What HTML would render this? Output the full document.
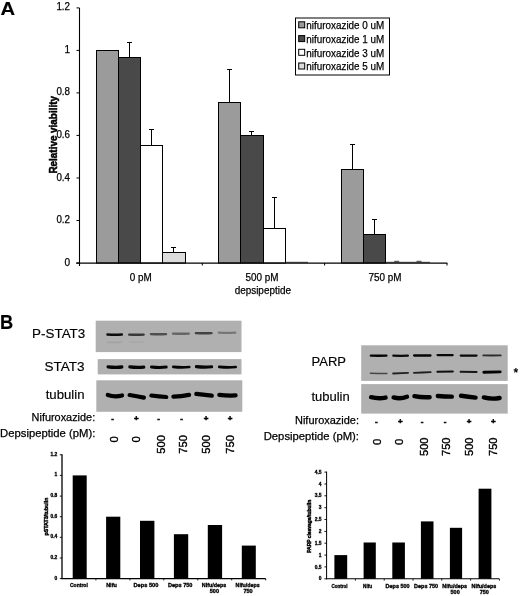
<!DOCTYPE html>
<html lang="en">
<head>
<meta charset="utf-8">
<title>Figure</title>
<style>
html,body{margin:0;padding:0;background:#fff;}
body{width:520px;height:596px;overflow:hidden;}
svg{display:block;}
text{font-family:"Liberation Sans",Arial,Helvetica,sans-serif;fill:#000;}
.t{stroke:#000;stroke-width:0.25px;}
.tb{stroke:#000;stroke-width:0.5px;}
.ts{stroke:#000;stroke-width:0.3px;}
.tl{stroke:#000;stroke-width:0.15px;}
.tr{stroke:#000;stroke-width:0.4px;}
.tt{stroke:#000;stroke-width:0.45px;}
</style>
</head>
<body>
<svg width="520" height="596" viewBox="0 0 520 596">
<defs>
<filter id="b1" filterUnits="userSpaceOnUse" x="90" y="315" width="430" height="105"><feGaussianBlur stdDeviation="0.55"/></filter>
<filter id="b2" filterUnits="userSpaceOnUse" x="90" y="315" width="430" height="105"><feGaussianBlur stdDeviation="0.5"/></filter>
</defs>
<rect x="0" y="0" width="520" height="596" fill="#fff"/>

<g id="panelA">
<text x="0.6" y="14.8" font-size="19" font-weight="bold" textLength="14.6" lengthAdjust="spacingAndGlyphs" class="tl">A</text>
<rect x="96.5" y="50.5" width="22.0" height="212.5" fill="#9b9b9b" stroke="#000" stroke-width="1"/>
<rect x="118.5" y="57.5" width="22.0" height="205.5" fill="#494949" stroke="#000" stroke-width="1"/>
<path d="M129.5 57.5V42.5M127.0 42.5H132.0" stroke="#000" stroke-width="1" fill="none"/>
<rect x="140.5" y="145.5" width="22.0" height="117.5" fill="#ffffff" stroke="#000" stroke-width="1"/>
<path d="M151.5 145.5V129.5M149.0 129.5H154.0" stroke="#000" stroke-width="1" fill="none"/>
<rect x="162.5" y="252.5" width="23.0" height="10.5" fill="#dcdcdc" stroke="#000" stroke-width="1"/>
<path d="M173.5 252.5V247.5M171.0 247.5H176.0" stroke="#000" stroke-width="1" fill="none"/>
<rect x="218.5" y="102.5" width="22.0" height="160.5" fill="#9b9b9b" stroke="#000" stroke-width="1"/>
<path d="M229.5 102.5V69.5M227.0 69.5H232.0" stroke="#000" stroke-width="1" fill="none"/>
<rect x="240.5" y="135.5" width="23.0" height="127.5" fill="#494949" stroke="#000" stroke-width="1"/>
<path d="M251.5 135.5V131.5M249.0 131.5H254.0" stroke="#000" stroke-width="1" fill="none"/>
<rect x="263.5" y="228.5" width="22.0" height="34.5" fill="#ffffff" stroke="#000" stroke-width="1"/>
<path d="M274.5 228.5V197.5M272.0 197.5H277.0" stroke="#000" stroke-width="1" fill="none"/>
<path d="M285.5 262.3H308.0" stroke="#000" stroke-width="0.9" opacity="0.8"/>
<rect x="341.5" y="169.5" width="22.0" height="93.5" fill="#9b9b9b" stroke="#000" stroke-width="1"/>
<path d="M352.5 169.5V144.5M350.0 144.5H355.0" stroke="#000" stroke-width="1" fill="none"/>
<rect x="363.5" y="234.5" width="22.0" height="28.5" fill="#494949" stroke="#000" stroke-width="1"/>
<path d="M374.5 234.5V219.5M372.0 219.5H377.0" stroke="#000" stroke-width="1" fill="none"/>
<path d="M385.5 262.3H408.0" stroke="#000" stroke-width="0.9" opacity="0.8"/>
<path d="M394.2 261.3H399.2" stroke="#000" stroke-width="1" opacity="0.75"/>
<path d="M408.0 262.3H430.0" stroke="#000" stroke-width="0.9" opacity="0.8"/>
<path d="M416.5 261.3H421.5" stroke="#000" stroke-width="1" opacity="0.75"/>
<path d="M79.5 8.0V266.0" stroke="#000" stroke-width="1.1" fill="none"/>
<path d="M76.2 263.0H447.3" stroke="#000" stroke-width="1.25" fill="none"/>
<path d="M76.5 263.0H79.5" stroke="#000" stroke-width="1"/>
<text x="70.0" y="265.5" font-size="11" text-anchor="end" textLength="5.6" lengthAdjust="spacingAndGlyphs" class="t">0</text>
<path d="M76.5 220.5H79.5" stroke="#000" stroke-width="1"/>
<text x="70.0" y="223.0" font-size="11" text-anchor="end" textLength="13.6" lengthAdjust="spacingAndGlyphs" class="t">0.2</text>
<path d="M76.5 178.0H79.5" stroke="#000" stroke-width="1"/>
<text x="70.0" y="180.5" font-size="11" text-anchor="end" textLength="13.6" lengthAdjust="spacingAndGlyphs" class="t">0.4</text>
<path d="M76.5 135.4H79.5" stroke="#000" stroke-width="1"/>
<text x="70.0" y="137.9" font-size="11" text-anchor="end" textLength="13.6" lengthAdjust="spacingAndGlyphs" class="t">0.6</text>
<path d="M76.5 92.9H79.5" stroke="#000" stroke-width="1"/>
<text x="70.0" y="95.4" font-size="11" text-anchor="end" textLength="13.6" lengthAdjust="spacingAndGlyphs" class="t">0.8</text>
<path d="M76.5 50.4H79.5" stroke="#000" stroke-width="1"/>
<text x="70.0" y="52.9" font-size="11" text-anchor="end" textLength="5.6" lengthAdjust="spacingAndGlyphs" class="t">1</text>
<path d="M76.5 7.9H79.5" stroke="#000" stroke-width="1"/>
<text x="70.0" y="10.4" font-size="11" text-anchor="end" textLength="13.6" lengthAdjust="spacingAndGlyphs" class="t">1.2</text>
<path d="M202.3 263.0V265.5" stroke="#000" stroke-width="1"/>
<path d="M324.6 263.0V265.5" stroke="#000" stroke-width="1"/>
<path d="M447 263.0V265.5" stroke="#000" stroke-width="1"/>
<text x="140.7" y="281.2" font-size="11" text-anchor="middle" textLength="22" lengthAdjust="spacingAndGlyphs" class="t">0 pM</text>
<text x="262" y="281.2" font-size="11" text-anchor="middle" textLength="33" lengthAdjust="spacingAndGlyphs" class="t">500 pM</text>
<text x="262.8" y="294" font-size="11" text-anchor="middle" textLength="56.3" lengthAdjust="spacingAndGlyphs" class="t">depsipeptide</text>
<text x="385" y="281.2" font-size="11" text-anchor="middle" textLength="33" lengthAdjust="spacingAndGlyphs" class="t">750 pM</text>
<text transform="translate(57.0,134.8) rotate(-90)" font-size="10" font-weight="bold" text-anchor="middle" textLength="77.5" lengthAdjust="spacingAndGlyphs" class="tb">Relative viability</text>
<rect x="295.5" y="18" width="94" height="57" fill="#fff" stroke="#000" stroke-width="1"/>
<rect x="298.7" y="21.8" width="6" height="6" fill="#9b9b9b" stroke="#000" stroke-width="1"/>
<text x="306.3" y="29.1" font-size="11" textLength="78" lengthAdjust="spacingAndGlyphs" class="t">nifuroxazide 0 uM</text>
<rect x="298.7" y="35.6" width="6" height="6" fill="#494949" stroke="#000" stroke-width="1"/>
<text x="306.3" y="42.9" font-size="11" textLength="78" lengthAdjust="spacingAndGlyphs" class="t">nifuroxazide 1 uM</text>
<rect x="298.7" y="49.3" width="6" height="6" fill="#ffffff" stroke="#000" stroke-width="1"/>
<text x="306.3" y="56.6" font-size="11" textLength="78" lengthAdjust="spacingAndGlyphs" class="t">nifuroxazide 3 uM</text>
<rect x="298.7" y="63.0" width="6" height="6" fill="#dcdcdc" stroke="#000" stroke-width="1"/>
<text x="306.3" y="70.3" font-size="11" textLength="78" lengthAdjust="spacingAndGlyphs" class="t">nifuroxazide 5 uM</text>
</g>
<g id="panelB">
<text x="0" y="328.7" font-size="19.4" font-weight="bold" textLength="13.2" lengthAdjust="spacingAndGlyphs" class="tl">B</text>
<rect x="95.7" y="320.7" width="145.8" height="31.4" fill="#b0b0b0"/>
<rect x="97.7" y="359.1" width="143.8" height="15.3" fill="#b0b0b0"/>
<rect x="96.3" y="380.3" width="146" height="31.5" fill="#b0b0b0"/>
<path d="M107.5 334.6Q114.6 335.0 121.8 334.6" stroke="#000" stroke-width="2.5" stroke-linecap="round" fill="none" opacity="0.92" filter="url(#b1)"/>
<path d="M129.2 334.6Q136.4 335.0 143.6 334.6" stroke="#000" stroke-width="2.4" stroke-linecap="round" fill="none" opacity="0.68" filter="url(#b1)"/>
<path d="M151.0 334.1Q158.5 334.5 166.0 334.1" stroke="#000" stroke-width="2.4" stroke-linecap="round" fill="none" opacity="0.55" filter="url(#b1)"/>
<path d="M173.0 333.6Q180.9 334.0 188.8 333.6" stroke="#000" stroke-width="2.4" stroke-linecap="round" fill="none" opacity="0.42" filter="url(#b1)"/>
<path d="M195.9 333.1Q203.7 333.5 211.5 333.1" stroke="#000" stroke-width="2.4" stroke-linecap="round" fill="none" opacity="0.62" filter="url(#b1)"/>
<path d="M218.8 332.7Q227.1 333.1 235.4 332.7" stroke="#000" stroke-width="2.2" stroke-linecap="round" fill="none" opacity="0.32" filter="url(#b1)"/>
<path d="M107.3 342.2Q114.2 342.6 121.2 342.2" stroke="#333" stroke-width="1.6" stroke-linecap="round" fill="none" opacity="0.1" filter="url(#b1)"/>
<path d="M129.7 342.0Q136.5 342.0 143.3 342.0" stroke="#333" stroke-width="1.4" stroke-linecap="round" fill="none" opacity="0.06" filter="url(#b1)"/>
<path d="M108.1 366.8Q115.0 367.7 121.8 367.0" stroke="#000" stroke-width="3.3" stroke-linecap="round" fill="none" opacity="0.97" filter="url(#b1)"/>
<path d="M129.8 366.9Q136.8 367.8 143.8 367.1" stroke="#000" stroke-width="3.1" stroke-linecap="round" fill="none" opacity="0.97" filter="url(#b1)"/>
<path d="M151.5 366.9Q158.8 367.8 166.2 367.1" stroke="#000" stroke-width="3.0" stroke-linecap="round" fill="none" opacity="0.97" filter="url(#b1)"/>
<path d="M173.3 366.8Q181.2 367.7 189.2 367.0" stroke="#000" stroke-width="2.7" stroke-linecap="round" fill="none" opacity="0.97" filter="url(#b1)"/>
<path d="M196.4 366.6Q204.0 367.5 211.6 366.8" stroke="#000" stroke-width="3.1" stroke-linecap="round" fill="none" opacity="0.97" filter="url(#b1)"/>
<path d="M219.2 366.8Q227.4 367.7 235.7 367.0" stroke="#000" stroke-width="2.7" stroke-linecap="round" fill="none" opacity="0.97" filter="url(#b1)"/>
<path d="M107.8 395.0Q115.0 397.4 122.1 395.4" stroke="#000" stroke-width="4.2" stroke-linecap="round" fill="none" opacity="1" filter="url(#b1)"/>
<path d="M129.6 395.0Q136.8 396.1 143.9 397.6" stroke="#000" stroke-width="4.2" stroke-linecap="round" fill="none" opacity="1" filter="url(#b1)"/>
<path d="M151.4 395.5Q158.8 396.5 166.3 397.0" stroke="#000" stroke-width="4.2" stroke-linecap="round" fill="none" opacity="1" filter="url(#b1)"/>
<path d="M173.4 396.6Q181.2 396.5 189.1 394.9" stroke="#000" stroke-width="4.2" stroke-linecap="round" fill="none" opacity="1" filter="url(#b1)"/>
<path d="M196.3 393.9Q204.0 394.8 211.8 395.7" stroke="#000" stroke-width="4.2" stroke-linecap="round" fill="none" opacity="1" filter="url(#b1)"/>
<path d="M219.3 394.8Q227.4 395.9 235.6 395.4" stroke="#000" stroke-width="4.2" stroke-linecap="round" fill="none" opacity="1" filter="url(#b1)"/>
<text x="85.3" y="338.3" font-size="13.5" text-anchor="end" textLength="53.2" lengthAdjust="spacingAndGlyphs" class="tl">P-STAT3</text>
<text x="84.5" y="371.3" font-size="13" text-anchor="end" textLength="40.1" lengthAdjust="spacingAndGlyphs" class="tl">STAT3</text>
<text x="84.5" y="398.7" font-size="13" text-anchor="end" textLength="38.8" lengthAdjust="spacingAndGlyphs" class="tl">tubulin</text>
<text x="95.2" y="421.1" font-size="11" text-anchor="end" textLength="63.6" lengthAdjust="spacingAndGlyphs" class="t">Nifuroxazide:</text>
<text x="95.3" y="437.3" font-size="11" text-anchor="end" textLength="95.2" lengthAdjust="spacingAndGlyphs" class="t">Depsipeptide (pM):</text>
<text x="112.6" y="421.3" font-size="8" font-weight="bold" text-anchor="middle" class="tb">-</text>
<text x="136.4" y="421.3" font-size="8" font-weight="bold" text-anchor="middle" class="tb">+</text>
<text x="158.5" y="421.3" font-size="8" font-weight="bold" text-anchor="middle" class="tb">-</text>
<text x="181.5" y="421.3" font-size="8" font-weight="bold" text-anchor="middle" class="tb">-</text>
<text x="206.1" y="421.3" font-size="8" font-weight="bold" text-anchor="middle" class="tb">+</text>
<text x="230.2" y="421.3" font-size="8" font-weight="bold" text-anchor="middle" class="tb">+</text>
<text transform="translate(117.8,436.3) rotate(-90)" font-size="11.6" text-anchor="end" textLength="6.3" lengthAdjust="spacingAndGlyphs" class="tr">0</text>
<text transform="translate(140.1,436.3) rotate(-90)" font-size="11.6" text-anchor="end" textLength="6.3" lengthAdjust="spacingAndGlyphs" class="tr">0</text>
<text transform="translate(165.0,435.2) rotate(-90)" font-size="11.6" text-anchor="end" textLength="18.5" lengthAdjust="spacingAndGlyphs" class="tr">500</text>
<text transform="translate(187.0,435.2) rotate(-90)" font-size="11.6" text-anchor="end" textLength="18.5" lengthAdjust="spacingAndGlyphs" class="tr">750</text>
<text transform="translate(209.6,435.2) rotate(-90)" font-size="11.6" text-anchor="end" textLength="18.5" lengthAdjust="spacingAndGlyphs" class="tr">500</text>
<text transform="translate(233.8,435.2) rotate(-90)" font-size="11.6" text-anchor="end" textLength="18.5" lengthAdjust="spacingAndGlyphs" class="tr">750</text>
<rect x="361.2" y="345.3" width="146.5" height="35.6" fill="#b0b0b0"/>
<rect x="361.2" y="384.1" width="146.5" height="29.5" fill="#b0b0b0"/>
<path d="M370.9 355.6Q378.6 355.8 386.4 355.6" stroke="#000" stroke-width="2.4" stroke-linecap="round" fill="none" opacity="0.97" filter="url(#b1)"/>
<path d="M393.3 355.7Q400.6 355.9 407.9 355.7" stroke="#000" stroke-width="2.2" stroke-linecap="round" fill="none" opacity="0.95" filter="url(#b1)"/>
<path d="M414.2 355.4Q422.3 355.6 430.4 355.4" stroke="#000" stroke-width="2.5" stroke-linecap="round" fill="none" opacity="0.97" filter="url(#b1)"/>
<path d="M437.5 355.1Q445.1 355.3 452.7 355.1" stroke="#000" stroke-width="2.2" stroke-linecap="round" fill="none" opacity="0.95" filter="url(#b1)"/>
<path d="M460.8 355.6Q468.6 355.8 476.5 355.6" stroke="#000" stroke-width="2.3" stroke-linecap="round" fill="none" opacity="0.95" filter="url(#b1)"/>
<path d="M483.3 355.4Q492.0 355.6 500.7 355.4" stroke="#000" stroke-width="1.9" stroke-linecap="round" fill="none" opacity="0.75" filter="url(#b1)"/>
<path d="M370.4 373.3Q378.6 373.5 386.9 373.6" stroke="#000" stroke-width="1.5" stroke-linecap="round" fill="none" opacity="0.6" filter="url(#b1)"/>
<path d="M393.1 373.5Q400.6 373.2 408.1 372.9" stroke="#000" stroke-width="1.8" stroke-linecap="round" fill="none" opacity="0.8" filter="url(#b1)"/>
<path d="M413.9 372.8Q422.3 372.5 430.7 372.1" stroke="#000" stroke-width="1.8" stroke-linecap="round" fill="none" opacity="0.82" filter="url(#b1)"/>
<path d="M437.4 371.7Q445.1 371.6 452.8 371.5" stroke="#000" stroke-width="2.1" stroke-linecap="round" fill="none" opacity="0.92" filter="url(#b1)"/>
<path d="M460.6 371.8Q468.6 371.9 476.6 372.0" stroke="#000" stroke-width="2.0" stroke-linecap="round" fill="none" opacity="0.88" filter="url(#b1)"/>
<path d="M483.8 372.3Q492.0 372.1 500.2 371.9" stroke="#000" stroke-width="2.9" stroke-linecap="round" fill="none" opacity="0.98" filter="url(#b1)"/>
<path d="M371.1 397.2Q378.4 399.0 385.6 397.6" stroke="#000" stroke-width="4.4" stroke-linecap="round" fill="none" opacity="1" filter="url(#b1)"/>
<path d="M393.6 397.4Q400.3 399.5 407.0 396.8" stroke="#000" stroke-width="4.4" stroke-linecap="round" fill="none" opacity="1" filter="url(#b1)"/>
<path d="M414.4 396.2Q422.0 397.7 429.6 397.2" stroke="#000" stroke-width="4.4" stroke-linecap="round" fill="none" opacity="1" filter="url(#b1)"/>
<path d="M437.8 396.0Q444.8 396.5 451.8 396.6" stroke="#000" stroke-width="4.4" stroke-linecap="round" fill="none" opacity="1" filter="url(#b1)"/>
<path d="M461.0 395.8Q468.3 396.9 475.6 397.6" stroke="#000" stroke-width="4.4" stroke-linecap="round" fill="none" opacity="1" filter="url(#b1)"/>
<path d="M483.8 397.4Q491.7 399.5 499.6 398.0" stroke="#000" stroke-width="4.4" stroke-linecap="round" fill="none" opacity="1" filter="url(#b1)"/>
<text x="311.5" y="366" font-size="13" class="tl">PARP</text>
<text x="311.4" y="401.3" font-size="13" class="tl">tubulin</text>
<text x="359" y="423.8" font-size="11" text-anchor="end" textLength="64" lengthAdjust="spacingAndGlyphs" class="t">Nifuroxazide:</text>
<text x="359" y="439.7" font-size="11" text-anchor="end" textLength="95.3" lengthAdjust="spacingAndGlyphs" class="t">Depsipeptide (pM):</text>
<text x="515.8" y="377" font-size="12" font-weight="bold" text-anchor="middle">*</text>
<text x="376.4" y="423.95" font-size="8" font-weight="bold" text-anchor="middle" class="tb">-</text>
<text x="400.4" y="423.95" font-size="8" font-weight="bold" text-anchor="middle" class="tb">+</text>
<text x="422.0" y="423.95" font-size="8" font-weight="bold" text-anchor="middle" class="tb">-</text>
<text x="445.1" y="423.95" font-size="8" font-weight="bold" text-anchor="middle" class="tb">-</text>
<text x="469.0" y="423.95" font-size="8" font-weight="bold" text-anchor="middle" class="tb">+</text>
<text x="493.3" y="423.95" font-size="8" font-weight="bold" text-anchor="middle" class="tb">+</text>
<text transform="translate(381.2,438.6) rotate(-90)" font-size="11.6" text-anchor="end" textLength="6.3" lengthAdjust="spacingAndGlyphs" class="tr">0</text>
<text transform="translate(402.9,438.6) rotate(-90)" font-size="11.6" text-anchor="end" textLength="6.3" lengthAdjust="spacingAndGlyphs" class="tr">0</text>
<text transform="translate(427.9,437.5) rotate(-90)" font-size="11.6" text-anchor="end" textLength="18.5" lengthAdjust="spacingAndGlyphs" class="tr">500</text>
<text transform="translate(450.3,437.5) rotate(-90)" font-size="11.6" text-anchor="end" textLength="18.5" lengthAdjust="spacingAndGlyphs" class="tr">750</text>
<text transform="translate(472.6,437.5) rotate(-90)" font-size="11.6" text-anchor="end" textLength="18.5" lengthAdjust="spacingAndGlyphs" class="tr">500</text>
<text transform="translate(497.2,437.5) rotate(-90)" font-size="11.6" text-anchor="end" textLength="18.5" lengthAdjust="spacingAndGlyphs" class="tr">750</text>
</g>
<g id="chartL">
<rect x="72.7" y="475.4" width="14" height="103.2" fill="#000"/>
<rect x="106.1" y="516.7" width="14.2" height="61.9" fill="#000"/>
<rect x="140.0" y="520.8" width="14.4" height="57.8" fill="#000"/>
<rect x="173.9" y="534.2" width="14.3" height="44.4" fill="#000"/>
<rect x="207.8" y="525.0" width="14.3" height="53.6" fill="#000"/>
<rect x="241.8" y="545.6" width="14.0" height="33.0" fill="#000"/>
<path d="M62.0 454.3V579.1" stroke="#000" stroke-width="1.3" fill="none"/>
<path d="M61.5 578.6H265.7" stroke="#000" stroke-width="1.1" fill="none"/>
<path d="M59.8 578.6H62.0" stroke="#000" stroke-width="0.9"/>
<text x="57.3" y="579.5" font-size="4.9" font-weight="bold" text-anchor="end" class="ts">0</text>
<path d="M59.8 558.0H62.0" stroke="#000" stroke-width="0.9"/>
<text x="57.3" y="558.9" font-size="4.9" font-weight="bold" text-anchor="end" class="ts">0.2</text>
<path d="M59.8 537.3H62.0" stroke="#000" stroke-width="0.9"/>
<text x="57.3" y="538.2" font-size="4.9" font-weight="bold" text-anchor="end" class="ts">0.4</text>
<path d="M59.8 516.7H62.0" stroke="#000" stroke-width="0.9"/>
<text x="57.3" y="517.6" font-size="4.9" font-weight="bold" text-anchor="end" class="ts">0.6</text>
<path d="M59.8 496.1H62.0" stroke="#000" stroke-width="0.9"/>
<text x="57.3" y="497.0" font-size="4.9" font-weight="bold" text-anchor="end" class="ts">0.8</text>
<path d="M59.8 475.4H62.0" stroke="#000" stroke-width="0.9"/>
<text x="57.3" y="476.3" font-size="4.9" font-weight="bold" text-anchor="end" class="ts">1</text>
<path d="M59.8 454.8H62.0" stroke="#000" stroke-width="0.9"/>
<text x="57.3" y="455.7" font-size="4.9" font-weight="bold" text-anchor="end" class="ts">1.2</text>
<path d="M95.9 578.6V580.4" stroke="#000" stroke-width="0.9"/>
<path d="M129.9 578.6V580.4" stroke="#000" stroke-width="0.9"/>
<path d="M163.8 578.6V580.4" stroke="#000" stroke-width="0.9"/>
<path d="M197.8 578.6V580.4" stroke="#000" stroke-width="0.9"/>
<path d="M231.7 578.6V580.4" stroke="#000" stroke-width="0.9"/>
<path d="M265.7 578.6V580.4" stroke="#000" stroke-width="0.9"/>
<text x="78.9" y="586.6" font-size="5.3" font-weight="bold" text-anchor="middle" textLength="17.9" lengthAdjust="spacingAndGlyphs" class="ts">Control</text>
<text x="111.5" y="586.6" font-size="5.3" font-weight="bold" text-anchor="middle" textLength="10.7" lengthAdjust="spacingAndGlyphs" class="ts">Nifu</text>
<text x="145.9" y="586.6" font-size="5.3" font-weight="bold" text-anchor="middle" textLength="24.8" lengthAdjust="spacingAndGlyphs" class="ts">Deps 500</text>
<text x="180.2" y="586.6" font-size="5.3" font-weight="bold" text-anchor="middle" textLength="24.6" lengthAdjust="spacingAndGlyphs" class="ts">Deps 750</text>
<text x="214.0" y="586.6" font-size="5.3" font-weight="bold" text-anchor="middle" textLength="24.5" lengthAdjust="spacingAndGlyphs" class="ts">Nifu/deps</text>
<text x="214.4" y="592.8" font-size="5.3" font-weight="bold" text-anchor="middle" textLength="9.2" lengthAdjust="spacingAndGlyphs" class="ts">500</text>
<text x="247.6" y="586.6" font-size="5.3" font-weight="bold" text-anchor="middle" textLength="24.0" lengthAdjust="spacingAndGlyphs" class="ts">Nifu/deps</text>
<text x="248.0" y="592.8" font-size="5.3" font-weight="bold" text-anchor="middle" textLength="9.2" lengthAdjust="spacingAndGlyphs" class="ts">750</text>
<text transform="translate(47.9,516.5) rotate(-90)" font-size="5.6" font-weight="bold" text-anchor="middle" textLength="38" lengthAdjust="spacingAndGlyphs" class="tt">pSTAT3/tubulin</text>
</g>
<g id="chartR">
<rect x="334.4" y="555.1" width="12.8" height="23.7" fill="#000"/>
<rect x="363.6" y="542.5" width="12.2" height="36.3" fill="#000"/>
<rect x="392.3" y="542.5" width="12.6" height="36.3" fill="#000"/>
<rect x="420.9" y="521.4" width="12.6" height="57.4" fill="#000"/>
<rect x="449.9" y="527.8" width="12.2" height="51.0" fill="#000"/>
<rect x="478.6" y="488.7" width="12.8" height="90.1" fill="#000"/>
<path d="M326.6 471.6V579.3" stroke="#000" stroke-width="1.0" fill="none"/>
<path d="M326.1 578.8H499.4" stroke="#000" stroke-width="1.1" fill="none"/>
<path d="M324.40000000000003 578.8H326.6" stroke="#000" stroke-width="0.9"/>
<text x="321.6" y="580.4" font-size="4.9" font-weight="bold" text-anchor="end" class="ts">0</text>
<path d="M324.40000000000003 566.9H326.6" stroke="#000" stroke-width="0.9"/>
<text x="321.6" y="568.5" font-size="4.9" font-weight="bold" text-anchor="end" class="ts">0.5</text>
<path d="M324.40000000000003 555.1H326.6" stroke="#000" stroke-width="0.9"/>
<text x="321.6" y="556.7" font-size="4.9" font-weight="bold" text-anchor="end" class="ts">1</text>
<path d="M324.40000000000003 543.2H326.6" stroke="#000" stroke-width="0.9"/>
<text x="321.6" y="544.8" font-size="4.9" font-weight="bold" text-anchor="end" class="ts">1.5</text>
<path d="M324.40000000000003 531.4H326.6" stroke="#000" stroke-width="0.9"/>
<text x="321.6" y="533.0" font-size="4.9" font-weight="bold" text-anchor="end" class="ts">2</text>
<path d="M324.40000000000003 519.5H326.6" stroke="#000" stroke-width="0.9"/>
<text x="321.6" y="521.1" font-size="4.9" font-weight="bold" text-anchor="end" class="ts">2.5</text>
<path d="M324.40000000000003 507.7H326.6" stroke="#000" stroke-width="0.9"/>
<text x="321.6" y="509.3" font-size="4.9" font-weight="bold" text-anchor="end" class="ts">3</text>
<path d="M324.40000000000003 495.8H326.6" stroke="#000" stroke-width="0.9"/>
<text x="321.6" y="497.4" font-size="4.9" font-weight="bold" text-anchor="end" class="ts">3.5</text>
<path d="M324.40000000000003 484.0H326.6" stroke="#000" stroke-width="0.9"/>
<text x="321.6" y="485.6" font-size="4.9" font-weight="bold" text-anchor="end" class="ts">4</text>
<path d="M324.40000000000003 472.1H326.6" stroke="#000" stroke-width="0.9"/>
<text x="321.6" y="473.7" font-size="4.9" font-weight="bold" text-anchor="end" class="ts">4.5</text>
<path d="M355.4 578.8V580.5999999999999" stroke="#000" stroke-width="0.9"/>
<path d="M384.2 578.8V580.5999999999999" stroke="#000" stroke-width="0.9"/>
<path d="M413.0 578.8V580.5999999999999" stroke="#000" stroke-width="0.9"/>
<path d="M441.8 578.8V580.5999999999999" stroke="#000" stroke-width="0.9"/>
<path d="M470.6 578.8V580.5999999999999" stroke="#000" stroke-width="0.9"/>
<path d="M499.4 578.8V580.5999999999999" stroke="#000" stroke-width="0.9"/>
<text x="339.6" y="587.7" font-size="5.2" font-weight="bold" text-anchor="middle" textLength="16.0" lengthAdjust="spacingAndGlyphs" class="ts">Control</text>
<text x="367.6" y="587.7" font-size="5.2" font-weight="bold" text-anchor="middle" textLength="9.0" lengthAdjust="spacingAndGlyphs" class="ts">Nifu</text>
<text x="397.6" y="587.7" font-size="5.2" font-weight="bold" text-anchor="middle" textLength="24.0" lengthAdjust="spacingAndGlyphs" class="ts">Deps 500</text>
<text x="426.1" y="587.7" font-size="5.2" font-weight="bold" text-anchor="middle" textLength="24.0" lengthAdjust="spacingAndGlyphs" class="ts">Deps 750</text>
<text x="454.7" y="587.7" font-size="5.2" font-weight="bold" text-anchor="middle" textLength="24.7" lengthAdjust="spacingAndGlyphs" class="ts">Nifu/deps</text>
<text x="455.1" y="593.9" font-size="5.2" font-weight="bold" text-anchor="middle" textLength="9.2" lengthAdjust="spacingAndGlyphs" class="ts">500</text>
<text x="483.9" y="587.7" font-size="5.2" font-weight="bold" text-anchor="middle" textLength="24.7" lengthAdjust="spacingAndGlyphs" class="ts">Nifu/deps</text>
<text x="484.3" y="593.9" font-size="5.2" font-weight="bold" text-anchor="middle" textLength="9.2" lengthAdjust="spacingAndGlyphs" class="ts">750</text>
<text transform="translate(311.2,526.3) rotate(-90)" font-size="5.4" font-weight="bold" text-anchor="middle" textLength="53" lengthAdjust="spacingAndGlyphs" class="tt">PARP cleavage/tubulin</text>
</g>
</svg>
</body>
</html>
